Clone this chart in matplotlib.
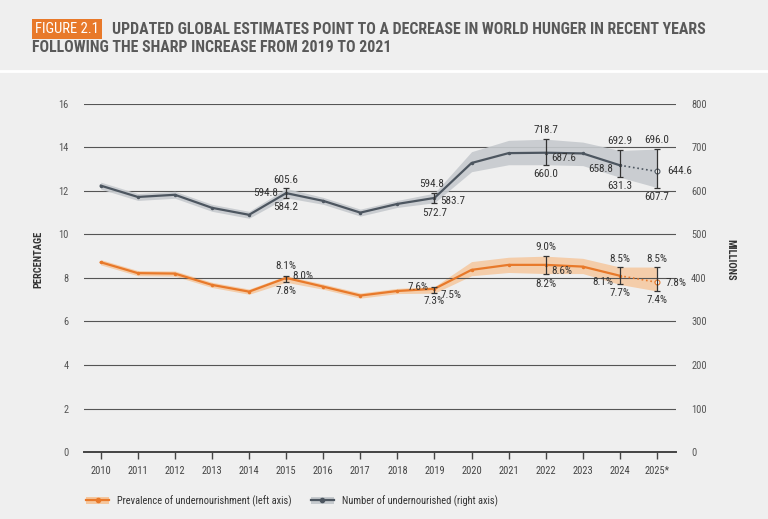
import matplotlib
matplotlib.use("Agg")
import matplotlib.pyplot as plt
from matplotlib.lines import Line2D
from matplotlib.patches import Patch
import matplotlib.font_manager as fm

# data
years = list(range(2010, 2026))
year_labels = [str(y) for y in years[:-1]] + ["2025*"]

pou = [8.72, 8.22, 8.2, 7.68, 7.37, 8.0, 7.6, 7.19, 7.4, 7.5, 8.37, 8.6, 8.6, 8.52, 8.1, 7.8]
pou_lo = [8.6, 8.1, 8.08, 7.56, 7.25, 7.8, 7.48, 7.07, 7.28, 7.3, 8.1, 8.25, 8.2, 8.2, 7.7, 7.4]
pou_hi = [8.84, 8.34, 8.32, 7.8, 7.49, 8.1, 7.72, 7.31, 7.52, 7.6, 8.75, 8.95, 9.0, 8.9, 8.5, 8.5]

nou = [612, 586, 591, 561, 545, 594.8, 577, 550, 570, 583.7, 664, 686.7, 687.6, 686, 658.8, 644.6]
nou_lo = [604, 578, 583, 553, 537, 584.2, 569, 542, 562, 572.7, 644, 660, 660.0, 658, 631.3, 607.7]
nou_hi = [620, 594, 599, 569, 553, 605.6, 585, 558, 578, 594.8, 690, 716, 718.7, 712, 692.9, 696.0]

err_years = [2015, 2019, 2022, 2024, 2025]

# (year, series, which value, text, dx px, dy px, ha)
labels = [
    (2015, "n", "hi", "605.6", 0, 8, "center"), (2015, "n", "mid", "594.8", -8, 0, "right"),
    (2015, "n", "lo", "584.2", 0, -9, "center"),
    (2019, "n", "hi", "594.8", -3, 9, "center"), (2019, "n", "mid", "583.7", 6, -3, "left"),
    (2019, "n", "lo", "572.7", 0, -10, "center"),
    (2022, "n", "hi", "718.7", 0, 9, "center"), (2022, "n", "mid", "687.6", 6, -5, "left"),
    (2022, "n", "lo", "660.0", 0, -9, "center"),
    (2024, "n", "hi", "692.9", 0, 9, "center"), (2024, "n", "mid", "658.8", -7, -4, "right"),
    (2024, "n", "lo", "631.3", 0, -9, "center"),
    (2025, "n", "hi", "696.0", 0, 9, "center"), (2025, "n", "mid", "644.6", 10, 0, "left"),
    (2025, "n", "lo", "607.7", 0, -9, "center"),
    (2015, "p", "hi", "8.1%", 0, 10, "center"), (2015, "p", "mid", "8.0%", 6, 2, "left"),
    (2015, "p", "lo", "7.8%", 0, -9, "center"),
    (2019, "p", "hi", "7.6%", -6, 0, "right"), (2019, "p", "mid", "7.5%", 6, -6, "left"),
    (2019, "p", "lo", "7.3%", 0, -8, "center"),
    (2022, "p", "hi", "9.0%", 0, 9, "center"), (2022, "p", "mid", "8.6%", 6, -6, "left"),
    (2022, "p", "lo", "8.2%", 0, -10, "center"),
    (2024, "p", "hi", "8.5%", 0, 8, "center"), (2024, "p", "mid", "8.1%", -6, -6, "right"),
    (2024, "p", "lo", "7.7%", 0, -9, "center"),
    (2025, "p", "hi", "8.5%", 0, 8, "center"), (2025, "p", "mid", "7.8%", 9, -1, "left"),
    (2025, "p", "lo", "7.4%", 0, -9, "center"),
]

names = {f.name for f in fm.fontManager.ttflist}
cond = [f for f in fm.fontManager.ttflist
        if f.name == "DejaVu Sans" and f.stretch == "condensed"]
if "Liberation Sans Narrow" in names:
    plt.rcParams["font.family"] = ["Liberation Sans Narrow", "DejaVu Sans"]
elif "Roboto Condensed" in names:
    plt.rcParams["font.family"] = ["Roboto Condensed", "DejaVu Sans"]
else:
    plt.rcParams["font.family"] = ["DejaVu Sans"]
    if cond:
        plt.rcParams["font.stretch"] = "condensed"

BG = "#efefef"
ORANGE = "#e8792a"
ORANGE_BAND = "#f5c79e"
GREY = "#4d5660"
GREY_BAND = "#c6cace"
TXT = "#333333"

fig = plt.figure(figsize=(7.68, 5.19), dpi=100, facecolor=BG)
ax = fig.add_axes([0.109, 0.129, 0.771, 0.671])
ax.set_facecolor(BG)
ax2 = ax.twinx()

ax.set_xlim(2009.54, 2025.51)
ax.set_ylim(0, 16)
ax2.set_ylim(0, 800)

for s in ["top", "right", "left"]:
    ax.spines[s].set_visible(False)
    ax2.spines[s].set_visible(False)
ax2.spines["bottom"].set_visible(False)
ax.spines["bottom"].set_color("#444444")
ax.spines["bottom"].set_linewidth(1.4)

ax.set_yticks(range(0, 17, 2))
ax2.set_yticks(range(0, 801, 100))
ax.grid(axis="y", color="#555555", lw=0.8)
ax.tick_params(axis="y", length=0, pad=11, labelsize=7.5, labelcolor="#555555")
ax2.tick_params(axis="y", length=0, pad=11, labelsize=7.5, labelcolor="#555555")
ax.set_xticks(years)
ax.set_xticklabels(year_labels)
ax.tick_params(axis="x", length=5, width=1, color="#444444", labelsize=7.5,
               labelcolor="#444444", pad=5)

# bands
ax.fill_between(years, pou_lo, pou_hi, color=ORANGE_BAND, lw=0, alpha=0.85)
ax2.fill_between(years, nou_lo, nou_hi, color=GREY_BAND, lw=0, alpha=0.9)

# lines
ax.plot(years[:-1], pou[:-1], color=ORANGE, lw=1.6, marker="o", ms=1.5)
ax.plot(years[-2:], pou[-2:], color=ORANGE, lw=1.2, ls=":")
ax.plot(years[-1], pou[-1], "o", ms=3.5, mfc="white", mec=ORANGE, mew=0.8)
ax2.plot(years[:-1], nou[:-1], color=GREY, lw=1.6, marker="o", ms=1.5)
ax2.plot(years[-2:], nou[-2:], color=GREY, lw=1.2, ls=":")
ax2.plot(years[-1], nou[-1], "o", ms=3.5, mfc="white", mec=GREY, mew=0.8)

# error bars
for y in err_years:
    i = years.index(y)
    ax.errorbar(y, pou[i], yerr=[[pou[i] - pou_lo[i]], [pou_hi[i] - pou[i]]],
                fmt="none", ecolor="#333333", elinewidth=0.9, capsize=2.5, capthick=0.9)
    ax2.errorbar(y, nou[i], yerr=[[nou[i] - nou_lo[i]], [nou_hi[i] - nou[i]]],
                 fmt="none", ecolor="#333333", elinewidth=0.9, capsize=2.5, capthick=0.9)

series = {"n": (ax2, nou, nou_lo, nou_hi), "p": (ax, pou, pou_lo, pou_hi)}
pt = 72 / fig.dpi
for y, s, which, t, dx, dy, ha in labels:
    i = years.index(y)
    tgt, mid, lo, hi = series[s]
    val = {"mid": mid, "lo": lo, "hi": hi}[which][i]
    tgt.annotate(t, (y, val), xytext=(dx * pt, dy * pt), textcoords="offset points",
                 ha=ha, va="center", fontsize=8, color=TXT)

fig.text(0.05, 0.5, "PERCENTAGE", rotation=90, ha="center", va="center",
         fontsize=7.5, fontweight="bold", color="#333333")
fig.text(0.951, 0.5, "MILLIONS", rotation=270, ha="center", va="center",
         fontsize=7.5, fontweight="bold", color="#333333")

# title
fig.text(0.046, 0.944, "FIGURE 2.1", color="white", fontsize=10.5, va="center", ha="left",
         bbox=dict(boxstyle="square,pad=0.2", fc=ORANGE, ec="none"))
t1 = fig.text(0.146, 0.944,
              "UPDATED GLOBAL ESTIMATES POINT TO A DECREASE IN WORLD HUNGER IN RECENT YEARS",
              color="#595959", fontsize=10.5, fontweight="bold", va="center", ha="left")
t2 = fig.text(0.042, 0.909, "FOLLOWING THE SHARP INCREASE FROM 2019 TO 2021",
              color="#595959", fontsize=10.5, fontweight="bold", va="center", ha="left")
# scale the title to the width it has in the original
r = fig.canvas.get_renderer()
w = t1.get_window_extent(r).width
f = min(10.5 * 600 / w, 14)
t1.set_fontsize(f)
t2.set_fontsize(f)
fig.add_artist(Line2D([0, 1], [0.863, 0.863], transform=fig.transFigure,
                      color="white", lw=2))

# legend
h1 = (Patch(fc=ORANGE_BAND, ec="none"),
      Line2D([], [], color=ORANGE, lw=1.6, marker="o", ms=3))
h2 = (Patch(fc=GREY_BAND, ec="none"),
      Line2D([], [], color=GREY, lw=1.6, marker="o", ms=3))
fig.legend([h1, h2], ["Prevalence of undernourishment (left axis)",
                      "Number of undernourished (right axis)"],
           loc="center left", bbox_to_anchor=(0.1, 0.035), ncol=2, frameon=False,
           fontsize=7.5, handlelength=2.2, columnspacing=1.8, labelcolor="#333333")

fig.savefig("out.png", dpi=100, facecolor=BG)
